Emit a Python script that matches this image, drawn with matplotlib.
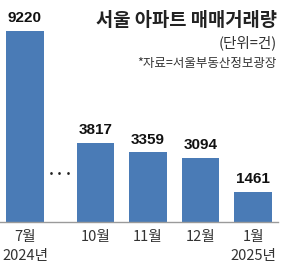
import matplotlib
matplotlib.use("Agg")
import matplotlib.pyplot as plt
from matplotlib import font_manager

months = ["7월", "10월", "11월", "12월", "1월"]
years = ["2024년", "", "", "", "2025년"]
values = [9220, 3817, 3359, 3094, 1461]
positions = [0, 1.343, 2.343, 3.343, 4.343]

names = {f.name for f in font_manager.fontManager.ttflist}
num_font = "Liberation Sans Narrow" if "Liberation Sans Narrow" in names else "Liberation Sans"
kr = ["Noto Sans CJK KR", "DejaVu Sans"]

fig = plt.figure(figsize=(2.85, 2.79), dpi=100)
ax = fig.add_axes([0, 0, 1, 1])
# pixel mapping: x_px = 25 + 52.5*x ; y baseline at 222 px from top
ax.set_xlim(-25 / 52.5, (285 - 25) / 52.5)
scale = 191 / 9220.0  # px per unit
ax.set_ylim(-(279 - 222) / scale, 222 / scale)
ax.axis("off")

bar_color = "#4a7bb6"
ax.bar(positions, values, width=0.71, color=bar_color, zorder=2)
ax.plot([-25 / 52.5, (278 - 25) / 52.5], [0, 0], color="#9a9a9a", lw=1.0, zorder=3)

for x, v in zip(positions, values):
    ax.text(x, v + 5.5 / scale, f"{v}", ha="center", va="bottom",
            fontsize=11, fontweight="bold", family=[num_font, "DejaVu Sans"], color="#111111")

for x, m, y in zip(positions, months, years):
    ax.text(x, -15 / scale, m, ha="center", va="center", fontsize=10.5,
            family=kr, color="#333333")
    if y:
        ax.text(x, -34 / scale, y, ha="center", va="center", fontsize=10.5,
                family=kr, color="#333333")

ax.text((60 - 25) / 52.5, (222 - 174) / scale, "···", ha="center", va="center",
        fontsize=11, fontweight="bold", color="#222222", family=kr)

fig.text(277 / 285, 1 - 20 / 279, "서울 아파트 매매거래량", ha="right", va="center",
         fontsize=13.5, fontweight="bold", family=kr, color="#222222")
fig.text(277 / 285, 1 - 43 / 279, "(단위=건)", ha="right", va="center",
         fontsize=10.5, family=kr, color="#333333")
fig.text(277 / 285, 1 - 63 / 279, "*자료=서울부동산정보광장", ha="right", va="center",
         fontsize=9, family=kr, color="#333333")

fig.savefig("out.png", dpi=100)
